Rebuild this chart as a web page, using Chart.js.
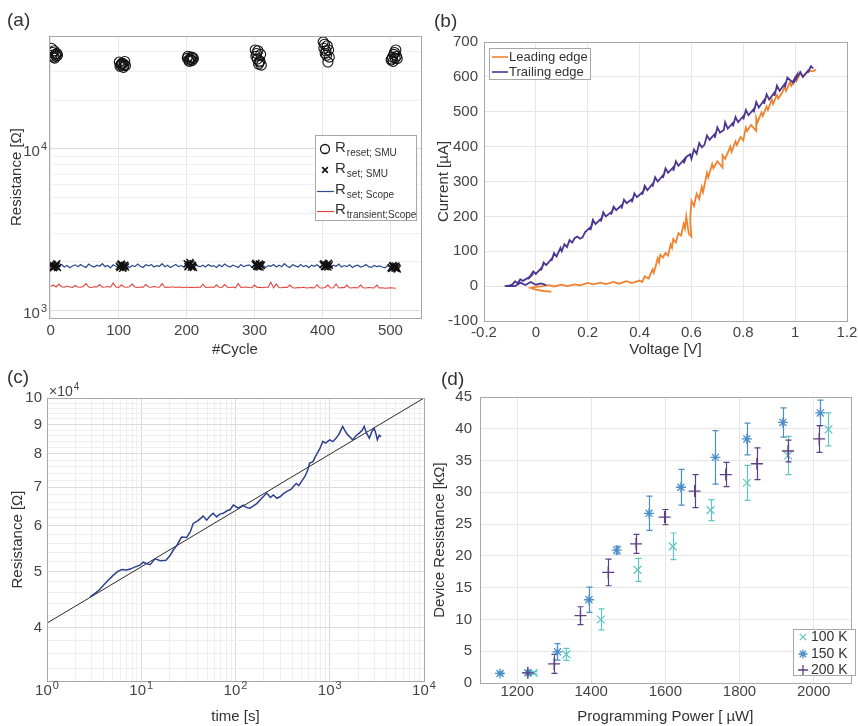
<!DOCTYPE html>
<html>
<head>
<meta charset="utf-8">
<title>Resistance switching characteristics</title>
<script src="https://cdn.jsdelivr.net/npm/chart.js@4.4.1/dist/chart.umd.min.js"></script>
<style>
  html, body { margin: 0; padding: 0; background: #fff; }
  #fig { position: relative; width: 858px; height: 726px; overflow: hidden; background: #fff; }
  #fig canvas { position: absolute; }
  .tag { position: absolute; font: 19px "Liberation Sans", Arial, sans-serif; color: #333; line-height: 1; }
</style>
</head>
<body>
<div id="fig">
  <canvas id="cA" width="430" height="362" style="left:0;top:0;width:430px;height:362px"></canvas>
  <canvas id="cB" width="428" height="362" style="left:430px;top:0;width:428px;height:362px"></canvas>
  <canvas id="cC" width="458" height="364" style="left:0;top:362px;width:458px;height:364px"></canvas>
  <canvas id="cD" width="428" height="364" style="left:430px;top:362px;width:428px;height:364px"></canvas>
  <div class="tag" style="left:7px;top:10px">(a)</div>
  <div class="tag" style="left:434px;top:11px">(b)</div>
  <div class="tag" style="left:7px;top:367px">(c)</div>
  <div class="tag" style="left:441px;top:369px">(d)</div>
</div>
<script>
// ---------------- (a) endurance over switching cycles ----------------
const resetCycles = [1,3,2,5,4,7,6,9,8,10, 101,103,102,105,104,107,106,109,108,110,
  201,203,202,205,204,207,206,209,208,210, 301,303,302,305,304,307,306,309,308,310,
  401,403,402,405,404,407,406,409,408,410, 501,503,502,505,504,507,506,509,508,510];
const resetSMU = [42000,39500,38000,40500,37000,38500,36500,39000,37500,38000,
  34500,33000,32500,34000,33500,32000,33800,34800,33200,32800,
  36500,35500,37500,36000,34800,37000,35800,36800,35200,36200,
  41000,39000,37500,40500,36000,34500,33500,38500,35000,33000,
  46000,44500,42000,40500,39000,43500,38000,41000,34500,37000,
  35500,37000,36000,38500,34800,36500,39500,37500,41000,36200];
const setSMU = [1900,1860,1930,1880,1840,1910,1870,1950,1890,1850,
  1880,1920,1850,1900,1940,1870,1830,1910,1890,1860,
  1950,1900,1870,1980,1920,1860,1940,1890,1910,1850,
  1930,1890,1960,1870,1910,1940,1880,1920,1860,1900,
  1920,1880,1950,1900,1870,1930,1890,1960,1860,1910,
  1840,1880,1820,1860,1900,1830,1870,1850,1890,1810];
const setScope = [1880,1850,1910,1870,1930,1860,1900,1840,1890,1920,
  1870,1930,1880,1850,1940,1890,1860,1910,1880,1950,
  1870,1900,1840,1920,1880,1860,1930,1890,1910,1850,
  1900,1870,1940,1880,1850,1920,1890,1930,1860,1900,
  1880,1950,1870,1910,1850,1890,1930,1870,1900,1860,
  1920,1880,1850,1940,1890,1870,1910,1860,1930,1880,
  1900,1850,1920,1870,1940,1890,1860,1910,1880,1850,
  1930,1870,1900,1920,1860,1890,1940,1870,1910,1850,
  1900,1880,1930,1860,1910,1870,1950,1880,1850,1920,
  1890,1860,1930,1870,1900,1840,1910,1880,1920,1860,
  1890,1930,1870,1850,1910,1880,1940,1860,1900,1870,
  1920,1850,1890,1910,1860,1880,1930,1870,1850,1900,
  1870,1890,1860,1840,1900,1880,1850,1860];
const transientScope = [1410,1440,1400,1460,1405,1395,1420,1400,1390,1430,
  1400,1395,1410,1470,1400,1390,1405,1400,1450,1395,
  1400,1410,1395,1480,1400,1390,1440,1400,1395,1405,
  1460,1400,1390,1400,1395,1450,1400,1395,1410,1400,
  1395,1470,1390,1400,1395,1405,1390,1400,1395,1385,
  1400,1390,1395,1385,1400,1390,1460,1390,1395,1400,
  1390,1440,1395,1390,1450,1395,1390,1400,1385,1470,
  1390,1395,1400,1390,1385,1440,1390,1395,1385,1400,
  1390,1500,1380,1460,1390,1385,1395,1390,1440,1385,
  1380,1390,1385,1395,1380,1385,1390,1380,1450,1385,
  1380,1390,1440,1380,1385,1460,1380,1390,1385,1440,
  1380,1385,1390,1380,1440,1385,1380,1390,1385,1380,
  1440,1380,1385,1375,1380,1385,1380,1375];
const scopeCycles = setScope.map((_, i) => 4 * i);   // scope sampled every 4th cycle
const cycleTicks = [0, 100, 200, 300, 400, 500];
const resTicksA = [1000,2000,3000,4000,5000,6000,7000,8000,9000,10000,20000,30000,40000,50000];

// ---------------- (b) I-V during the set pulse ----------------
const leadV = [0.06,0.03,0.00,-0.02,0.00,0.03,0.05,0.07,0.10,0.12,
  0.15,0.17,0.20,0.22,0.25,0.27,0.30,0.32,0.35,0.37,
  0.40,0.41,0.42,0.435,0.45,0.455,0.47,0.475,0.48,0.49,
  0.50,0.51,0.52,0.525,0.53,0.54,0.55,0.56,0.57,0.575,
  0.58,0.59,0.60,0.595,0.60,0.61,0.62,0.63,0.64,0.645,
  0.66,0.665,0.68,0.685,0.70,0.72,0.72,0.73,0.75,0.755,
  0.77,0.775,0.79,0.80,0.81,0.815,0.83,0.85,0.85,0.855,
  0.87,0.875,0.89,0.895,0.91,0.915,0.93,0.935,0.95,0.96,
  0.965,0.98,0.985,1.00,1.005,1.02,1.03,1.05,1.07,1.08];
const leadI = [-16,-14,-10,-5,-2,0,3,-1,4,0,
  5,2,9,5,10,6,12,7,14,9,
  16,12,28,22,48,38,80,68,90,82,
  95,88,120,110,135,125,152,145,178,165,
  200,150,142,190,245,230,265,250,285,270,
  325,312,350,338,358,340,375,365,400,385,
  415,405,428,418,455,445,462,445,482,470,
  498,488,515,505,535,522,548,538,555,572,
  560,585,575,598,588,610,600,618,616,621];
const trailV = [1.07,1.06,1.05,1.055,1.03,1.02,1.00,1.005,0.99,0.97,
  0.96,0.965,0.94,0.93,0.92,0.925,0.90,0.89,0.88,0.885,
  0.86,0.85,0.84,0.845,0.82,0.81,0.80,0.805,0.78,0.77,
  0.76,0.765,0.74,0.73,0.725,0.71,0.70,0.69,0.695,0.67,
  0.66,0.65,0.64,0.63,0.62,0.61,0.60,0.595,0.58,0.57,
  0.575,0.55,0.54,0.53,0.535,0.51,0.50,0.49,0.495,0.47,
  0.46,0.45,0.455,0.43,0.42,0.41,0.415,0.39,0.38,0.37,
  0.375,0.35,0.34,0.33,0.335,0.31,0.30,0.29,0.295,0.27,
  0.26,0.25,0.255,0.23,0.22,0.21,0.215,0.19,0.18,0.17,
  0.16,0.15,0.14,0.13,0.12,0.11,0.10,0.095,0.08,0.07,
  0.06,0.065,0.04,0.03,0.02,0.025,0.00,-0.01,-0.03,-0.02,
  -0.05,-0.06,-0.07,-0.08,-0.09,-0.10,-0.12,-0.08,-0.06,-0.04,
  -0.02,0.00,0.02,0.04];
const trailI = [625,630,612,622,600,614,590,603,585,598,
  570,585,560,575,545,560,535,550,522,538,
  512,528,498,512,490,505,478,492,470,485,
  458,472,452,470,448,440,455,425,440,420,
  432,405,398,410,380,392,365,378,370,352,
  366,345,358,330,345,325,338,310,322,300,
  312,285,298,275,288,262,272,255,266,240,
  252,238,248,222,235,218,228,205,215,200,
  212,185,196,178,190,160,172,155,140,136,
  142,138,125,132,112,120,100,110,85,95,
  72,82,60,68,45,55,35,42,20,28,
  15,20,8,14,5,2,0,0,10,3,
  12,4,8,3];
const voltTicks = [-0.2, 0, 0.2, 0.4, 0.6, 0.8, 1, 1.2];
const currTicks = [-100, 0, 100, 200, 300, 400, 500, 600, 700];

// ---------------- (c) resistance drift over time ----------------
const driftT = [2.86,3.2,3.6,4.3,5.0,5.6,6.2,7.0,7.6,8.5,
  9.7,10.5,11.5,12.4,14,16,18.3,20,21.9,24,
  26.8,30.3,33,35.6,40,45.4,49.4,54,58,63,
  68,74,82,87.5,95,107,121,130,142,155,
  168,190,214,235,252,275,297,320,348,390,
  420,443,470,500,545,580,612,660,720,780,
  845,900,1000,1080,1170,1250,1370,1450,1550,1650,
  1750,1900,2060,2200,2320,2450,2630,2800,2960,3100,
  3200,3350,3500];
const driftR = [45200,45800,46500,48000,49200,50000,50400,50300,50500,50900,
  51300,51900,51600,51400,52600,52200,52300,53200,54500,55600,
  57400,57300,58500,60600,61300,62400,61400,62500,63100,62200,
  62900,63100,63800,64000,65200,64400,65200,64600,64400,65000,
  65600,67000,68400,67200,67900,67000,67400,68200,68800,69500,
  70500,71100,70500,71600,73100,74800,77100,77500,79700,81500,
  84100,83500,84600,84000,85200,86500,89300,87800,86300,85500,
  84600,86000,86900,87800,89300,87000,85200,87500,88600,86500,
  84600,86200,85700];
const fitT = [1, 10000];
const fitR = [40700, 100000];
const resLabelsC = [40000, 50000, 60000, 70000, 80000, 90000, 100000];

// ---------------- (d) resistance vs programming power ----------------
const pow100 = [1245,1333,1426,1525,1620,1722,1820,1931,2040];
const res100 = [1.6,4.5,10.0,17.8,21.5,27.2,31.5,35.8,39.9];
const err100 = [0.2,0.95,1.65,1.8,2.1,1.65,2.75,3.0,2.6];
const pow150 = [1154,1229,1309,1394,1469,1556,1642,1735,1820,1917,2018];
const res150 = [1.5,1.6,4.9,13.1,20.9,26.7,30.8,35.5,38.4,41.0,42.5];
const err150 = [0.2,0.3,1.3,2.0,0.6,2.7,2.8,4.2,2.5,2.3,2.0];
const pow200 = [1229,1300,1371,1446,1521,1598,1679,1763,1847,1931,2015];
const res200 = [1.6,3.0,10.6,17.4,21.9,26.1,30.2,32.8,34.5,36.5,38.4];
const err200 = [0.3,1.5,1.4,2.1,1.5,1.2,2.6,1.9,2.5,1.7,2.1];
const powerTicks = [1200, 1400, 1600, 1800, 2000];
const devResTicks = [0, 5, 10, 15, 20, 25, 30, 35, 40, 45];

// ---------------- shared styling ----------------
const FONT = '"Liberation Sans", Arial, Helvetica, sans-serif';
const TXT = '#444444';
const BOX = '#a8a8a8';
Chart.defaults.font.family = FONT;
Chart.defaults.color = TXT;
Chart.defaults.animation = false;

const C_BLUE_A = '#2c4a8e', C_RED_A = '#e2443a';
const C_LEAD = '#f0832f', C_TRAIL = '#4d3592';
const C_DRIFT = '#2d4090';
const C_100 = '#5fc6c4', C_150 = '#4a8fc9', C_200 = '#5e3f86';

const pts = (xs, ys) => xs.map((x, i) => ({ x, y: ys[i] }));

function axis(o) {
  return {
    type: o.type || 'linear',
    min: o.min, max: o.max,
    border: { display: false },
    grid: { color: o.grid || '#e6e6e6', drawTicks: false, lineWidth: 1 },
    ticks: {
      autoSkip: false, maxRotation: 0, minRotation: 0, padding: o.pad, color: TXT,
      font: { size: 15, family: FONT },
      callback: o.label
    },
    title: { display: true, text: o.title, color: '#333', font: { size: 15, family: FONT }, padding: o.titlePad },
    afterBuildTicks: s => { s.ticks = o.ticks.map(v => ({ value: v })); },
    afterFit: s => {
      if (o.w !== undefined) s.width = o.w;
      if (o.h !== undefined) s.height = o.h;
      s.paddingLeft = s.paddingRight = s.paddingTop = s.paddingBottom = 0;
    }
  };
}

const boxPlugin = {
  id: 'axesBox',
  afterDatasetsDraw(chart) {
    const { ctx, chartArea: a } = chart;
    ctx.save();
    ctx.strokeStyle = BOX; ctx.lineWidth = 1;
    ctx.strokeRect(Math.round(a.left) + 0.5, Math.round(a.top) + 0.5,
      Math.round(a.right - a.left), Math.round(a.bottom - a.top));
    ctx.restore();
  }
};

// "10" with a raised exponent, aligned on a given anchor
function powLabel(ctx, exp, x, yBase, align, size) {
  const sSize = Math.round(size * 0.7);
  ctx.font = size + 'px ' + FONT;
  const w1 = ctx.measureText('10').width;
  ctx.font = sSize + 'px ' + FONT;
  const w2 = ctx.measureText(String(exp)).width;
  const total = w1 + 1 + w2;
  const x0 = align === 'right' ? x - total : (align === 'center' ? x - total / 2 : x);
  ctx.textAlign = 'left'; ctx.textBaseline = 'alphabetic';
  ctx.font = size + 'px ' + FONT;
  ctx.fillText('10', x0, yBase);
  ctx.font = sSize + 'px ' + FONT;
  ctx.fillText(String(exp), x0 + w1 + 1, yBase - size * 0.42);
}

function legendFrame(ctx, x, y, w, h) {
  ctx.fillStyle = '#ffffff';
  ctx.fillRect(x, y, w, h);
  ctx.strokeStyle = BOX; ctx.lineWidth = 1;
  ctx.strokeRect(x + 0.5, y + 0.5, w, h);
}

function marker(ctx, style, r, x, y, color, lw) {
  ctx.strokeStyle = color; ctx.fillStyle = 'rgba(0,0,0,0)'; ctx.lineWidth = lw;
  Chart.helpers.drawPoint(ctx, { pointStyle: style, radius: r, borderWidth: lw, rotation: 0 }, x, y);
}

function baseOptions(pad, scales, plugins) {
  return {
    responsive: false, maintainAspectRatio: false, devicePixelRatio: 1,
    animation: false, events: [],
    layout: { padding: pad },
    plugins: Object.assign({ legend: { display: false }, tooltip: { enabled: false } }, plugins || {}),
    scales
  };
}

// ---------------- chart (a) ----------------
new Chart(document.getElementById('cA'), {
  type: 'line',
  data: {
    datasets: [
      { label: 'R reset; SMU', data: pts(resetCycles, resetSMU), showLine: false,
        pointStyle: 'circle', pointRadius: 5, pointBorderColor: '#111', pointBackgroundColor: 'rgba(0,0,0,0)',
        pointBorderWidth: 1.1, order: 1 },
      { label: 'R set; SMU', data: pts(resetCycles, setSMU), showLine: false,
        pointStyle: 'crossRot', pointRadius: 5, pointBorderColor: '#111', pointBorderWidth: 1.4, order: 2 },
      { label: 'R set; Scope', data: pts(scopeCycles, setScope), borderColor: C_BLUE_A,
        borderWidth: 1.2, pointRadius: 0, order: 3 },
      { label: 'R transient;Scope', data: pts(scopeCycles, transientScope), borderColor: C_RED_A,
        borderWidth: 1.1, pointRadius: 0, order: 4 }
    ]
  },
  options: baseOptions({ top: 36, right: 9, bottom: 0, left: 0 }, {
    x: axis({ min: -2.5, max: 545, ticks: cycleTicks, label: v => String(v), pad: 4,
      title: '#Cycle', titlePad: { bottom: 3 }, h: 44 }),
    y: axis({ type: 'logarithmic', min: 900, max: 50000, ticks: resTicksA, label: () => '',
      title: 'Resistance [\u03A9]', titlePad: { top: 8 }, w: 49,
      grid: c => (c.tick && (c.tick.value === 1000 || c.tick.value === 10000)) ? '#dcdcdc' : '#f0f0f0' })
  }),
  plugins: [boxPlugin, {
    id: 'extrasA',
    afterDraw(chart) {
      const ctx = chart.ctx, ys = chart.scales.y;
      ctx.save();
      ctx.fillStyle = TXT;
      [3, 4].forEach(e => powLabel(ctx, e, 47, ys.getPixelForValue(Math.pow(10, e)) + 7.5, 'right', 15));
      // legend with subscripted labels
      legendFrame(ctx, 315, 135, 101, 85);
      const rows = [
        { y: 149, sub: 'reset; SMU', draw: y => marker(ctx, 'circle', 4.5, 325, y, '#111', 1.3) },
        { y: 170, sub: 'set; SMU', draw: y => marker(ctx, 'crossRot', 4, 325, y, '#111', 1.6) },
        { y: 191, sub: 'set; Scope', draw: y => { ctx.strokeStyle = C_BLUE_A; ctx.lineWidth = 1.2;
            ctx.beginPath(); ctx.moveTo(317, y + 0.5); ctx.lineTo(334, y + 0.5); ctx.stroke(); } },
        { y: 211, sub: 'transient;Scope', draw: y => { ctx.strokeStyle = C_RED_A; ctx.lineWidth = 1.2;
            ctx.beginPath(); ctx.moveTo(317, y + 0.5); ctx.lineTo(334, y + 0.5); ctx.stroke(); } }
      ];
      rows.forEach(r => {
        r.draw(r.y);
        ctx.fillStyle = '#333'; ctx.textAlign = 'left'; ctx.textBaseline = 'alphabetic';
        ctx.font = '15px ' + FONT;
        ctx.fillText('R', 335, r.y + 3);
        const wR = ctx.measureText('R').width;
        ctx.font = '10px ' + FONT;
        ctx.fillText(r.sub, 335 + wR + 1, r.y + 7);
      });
      ctx.restore();
    }
  }]
});

// ---------------- chart (b) ----------------
new Chart(document.getElementById('cB'), {
  type: 'line',
  data: {
    datasets: [
      { label: 'Leading edge', data: pts(leadV, leadI), borderColor: C_LEAD, borderWidth: 1.8, pointRadius: 0, order: 2 },
      { label: 'Trailing edge', data: pts(trailV, trailI), borderColor: C_TRAIL, borderWidth: 1.8, pointRadius: 0, order: 1 }
    ]
  },
  options: baseOptions({ top: 42, right: 11, bottom: 0, left: 0 }, {
    x: axis({ min: -0.2, max: 1.2, ticks: voltTicks, label: v => String(Math.round(v * 10) / 10), pad: 3,
      title: 'Voltage [V]', titlePad: { bottom: 3 }, h: 41 }),
    y: axis({ min: -100, max: 700, ticks: currTicks, label: v => String(v), pad: 6,
      title: 'Current [\u00B5A]', titlePad: { top: 5 }, w: 54 })
  }),
  plugins: [boxPlugin, {
    id: 'legendB',
    afterDraw(chart) {
      const ctx = chart.ctx;
      ctx.save();
      legendFrame(ctx, 59, 48, 101, 31);
      [[57, C_LEAD, 'Leading edge'], [72, C_TRAIL, 'Trailing edge']].forEach(([y, col, txt]) => {
        ctx.strokeStyle = col; ctx.lineWidth = 1.6;
        ctx.beginPath(); ctx.moveTo(62, y); ctx.lineTo(78, y); ctx.stroke();
        ctx.fillStyle = '#333'; ctx.font = '13px ' + FONT; ctx.textAlign = 'left'; ctx.textBaseline = 'middle';
        ctx.fillText(txt, 79, y);
      });
      ctx.restore();
    }
  }]
});

// ---------------- chart (c) ----------------
const timeGrid = [];
[1, 10, 100, 1000].forEach(d => { for (let k = 1; k <= 9; k++) timeGrid.push(k * d); });
timeGrid.push(10000);
const resGridC = [];
for (let v = 34000; v <= 100000; v += 2000) resGridC.push(v);

new Chart(document.getElementById('cC'), {
  type: 'line',
  data: {
    datasets: [
      { label: 'fit', data: pts(fitT, fitR), borderColor: '#2a2a2a', borderWidth: 1, pointRadius: 0, order: 2 },
      { label: 'R(t)', data: pts(driftT, driftR), borderColor: C_DRIFT, borderWidth: 1.5, pointRadius: 0, order: 1 }
    ]
  },
  options: baseOptions({ top: 36, right: 34, bottom: 0, left: 0 }, {
    x: axis({ type: 'logarithmic', min: 1, max: 10000, ticks: timeGrid, label: () => '',
      title: 'time [s]', titlePad: { bottom: 0 }, h: 45,
      grid: c => (c.tick && [1, 10, 100, 1000, 10000].includes(c.tick.value)) ? '#dadada' : '#efefef' }),
    y: axis({ type: 'logarithmic', min: 32300, max: 100000, ticks: resGridC,
      label: v => resLabelsC.includes(v) ? String(v / 10000) : '', pad: 5,
      title: 'Resistance [\u03A9]', titlePad: { top: 9 }, w: 47,
      grid: c => (c.tick && resLabelsC.includes(c.tick.value)) ? '#dadada' : '#efefef' })
  }),
  plugins: [boxPlugin, {
    id: 'extrasC',
    afterDraw(chart) {
      const ctx = chart.ctx, xs = chart.scales.x, a = chart.chartArea;
      ctx.save();
      ctx.fillStyle = TXT;
      [0, 1, 2, 3, 4].forEach(e => powLabel(ctx, e, xs.getPixelForValue(Math.pow(10, e)), a.bottom + 14, 'center', 15));
      // axis multiplier
      ctx.font = '14px ' + FONT; ctx.textAlign = 'left'; ctx.textBaseline = 'alphabetic';
      ctx.fillText('\u00D710', 49, 34);
      const w = ctx.measureText('\u00D710').width;
      ctx.font = '10px ' + FONT;
      ctx.fillText('4', 49 + w + 1, 28);
      ctx.restore();
    }
  }]
});

// ---------------- chart (d) ----------------
const groups = [
  { p: pow100, r: res100, e: err100, col: C_100, style: 'crossRot', rad: 5.5, lw: 1.2, label: '100 K' },
  { p: pow150, r: res150, e: err150, col: C_150, style: 'star', rad: 5, lw: 1.3, label: '150 K' },
  { p: pow200, r: res200, e: err200, col: C_200, style: 'cross', rad: 6, lw: 1.3, label: '200 K' }
];

new Chart(document.getElementById('cD'), {
  type: 'line',
  data: {
    datasets: groups.map((g, i) => ({
      label: g.label, data: pts(g.p, g.r), showLine: false,
      pointStyle: g.style, pointRadius: g.rad, pointBorderColor: g.col, pointBorderWidth: g.lw,
      pointBackgroundColor: 'rgba(0,0,0,0)', order: 3 - i
    }))
  },
  options: baseOptions({ top: 35, right: 2, bottom: 0, left: 0 }, {
    x: axis({ min: 1100, max: 2100, ticks: powerTicks, label: v => String(v), pad: 0,
      title: 'Programming Power [ \u00B5W]', titlePad: { bottom: 0 }, h: 43 }),
    y: axis({ min: 0, max: 45, ticks: devResTicks, label: v => String(v), pad: 8,
      title: 'Device Resistance [k\u03A9]', titlePad: { top: 1 }, w: 50 })
  }),
  plugins: [boxPlugin, {
    id: 'errorBarsD',
    beforeDatasetsDraw(chart) {
      const ctx = chart.ctx, xs = chart.scales.x, ys = chart.scales.y;
      ctx.save();
      groups.forEach(g => {
        ctx.strokeStyle = g.col; ctx.lineWidth = 1.2;
        g.p.forEach((p, i) => {
          const x = Math.round(xs.getPixelForValue(p)) + 0.5;
          const y1 = ys.getPixelForValue(g.r[i] - g.e[i]);
          const y2 = ys.getPixelForValue(g.r[i] + g.e[i]);
          ctx.beginPath();
          ctx.moveTo(x, y1); ctx.lineTo(x, y2);
          ctx.moveTo(x - 3, y1); ctx.lineTo(x + 3, y1);
          ctx.moveTo(x - 3, y2); ctx.lineTo(x + 3, y2);
          ctx.stroke();
        });
      });
      ctx.restore();
    },
    afterDraw(chart) {
      const ctx = chart.ctx;
      ctx.save();
      legendFrame(ctx, 363, 267, 62, 46);
      [275, 292, 308].forEach((y, i) => {
        const g = groups[i];
        marker(ctx, g.style, i === 2 ? 5 : 4.5, 373, y, g.col, g.lw);
        ctx.fillStyle = '#333'; ctx.font = '14px ' + FONT; ctx.textAlign = 'left'; ctx.textBaseline = 'middle';
        ctx.fillText(g.label, 381, y);
      });
      ctx.restore();
    }
  }]
});
</script>
</body>
</html>
